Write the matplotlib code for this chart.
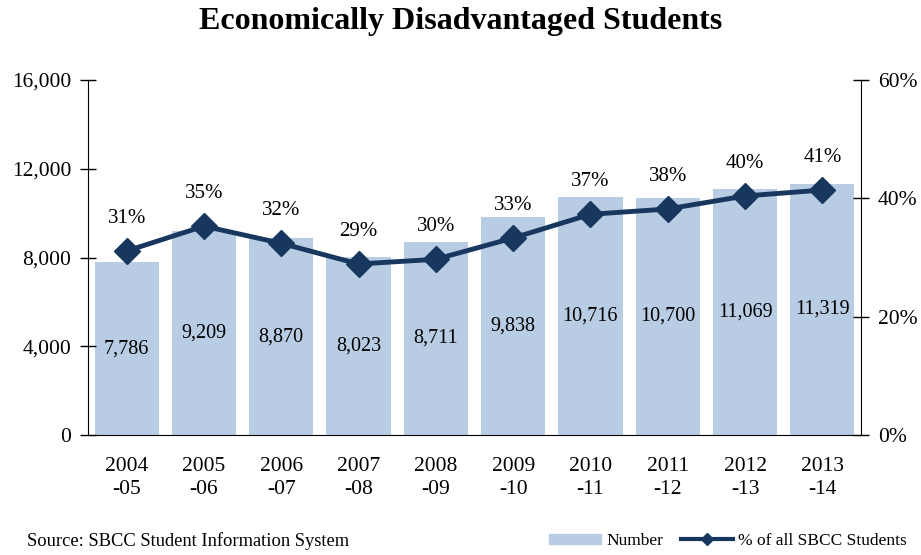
import matplotlib
matplotlib.use("Agg")
import matplotlib.pyplot as plt
from matplotlib.lines import Line2D
from matplotlib.patches import Patch

years = ["2004\n-05", "2005\n-06", "2006\n-07", "2007\n-08", "2008\n-09",
         "2009\n-10", "2010\n-11", "2011\n-12", "2012\n-13", "2013\n-14"]
numbers = [7786, 9209, 8870, 8023, 8711, 9838, 10716, 10700, 11069, 11319]
pct = [31.1, 35.3, 32.4, 28.9, 29.7, 33.3, 37.3, 38.2, 40.4, 41.4]
left_ticks = [0, 4000, 8000, 12000, 16000]
right_ticks = [0, 20, 40, 60]

plt.rcParams['font.family'] = ['Liberation Serif', 'DejaVu Serif']
bar_color = "#b8cce4"
line_color = "#17375e"

fig = plt.figure(figsize=(9.21, 5.55), dpi=100)
ax = fig.add_axes([88/921, 1-435/555, (861-88)/921, (435-80)/555])
x = list(range(len(years)))
ax.bar(x, numbers, width=0.83, color=bar_color, zorder=1)
ax.set_xlim(-0.5, len(years)-0.5)
ax.set_ylim(0, 16000)
ax.set_yticks(left_ticks)
ax.set_yticklabels([f"{v:,}" for v in left_ticks])
ax.set_xticks(x)
ax.set_xticklabels(years, linespacing=1.25)
ax.tick_params(axis='y', direction='inout', length=12, width=1, labelsize=15.5, pad=6)
ax.tick_params(axis='x', length=0, labelsize=15.5, pad=16)
for s in ['top', 'right']:
    ax.spines[s].set_visible(False)
for xi, v in zip(x, numbers):
    ax.text(xi, v/2, f"{v:,}", ha='center', va='center', fontsize=14.5, color='black', zorder=3)

ax2 = ax.twinx()
ax2.plot(x, pct, color=line_color, lw=3.5, marker='D', markersize=13, zorder=4)
ax2.set_ylim(0, 60)
ax2.set_yticks(right_ticks)
ax2.set_yticklabels([f"{v}%" for v in right_ticks])
ax2.tick_params(axis='y', direction='inout', length=12, width=1, labelsize=15.5, pad=6)
for s in ['top', 'left', 'bottom']:
    ax2.spines[s].set_visible(False)
for xi, p in zip(x, pct):
    ax2.text(xi, p + 5.5, f"{round(p)}%", ha='center', va='center', fontsize=15)

fig.text(0.5, 1-22/555, "Economically Disadvantaged Students", ha='center', va='center',
         fontsize=23, fontweight='bold')
fig.text(27/921, 1-541/555, "Source: SBCC Student Information System", ha='left', va='center',
         fontsize=13.3)

handles = [Patch(color=bar_color, label='Number'),
           Line2D([0], [0], color=line_color, lw=3, marker='D', markersize=6,
                  label='% of all SBCC Students')]
fig.legend(handles=handles, loc='center right', bbox_to_anchor=(0.992, 1-541/555),
           ncol=2, frameon=False, fontsize=12.5, handlelength=3.0, handleheight=0.5,
           columnspacing=1.0, handletextpad=0.3, borderaxespad=0)

fig.savefig("out.png", dpi=100)
